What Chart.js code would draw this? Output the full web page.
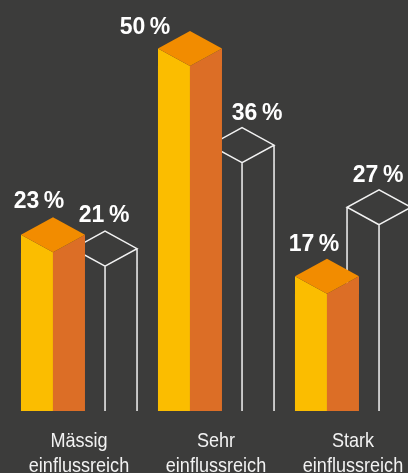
<!DOCTYPE html>
<html>
<head>
<meta charset="utf-8">
<script src="https://cdn.jsdelivr.net/npm/chart.js@4"></script>
<style>
  html, body { margin: 0; padding: 0; background: #3c3c3b; }
  #wrap { width: 408px; height: 473px; position: relative; }
</style>
</head>
<body>
<div id="wrap"><canvas id="barChart"></canvas></div>
<script>
// Chart data
const categories = [['Mässig', 'einflussreich'], ['Sehr', 'einflussreich'], ['Stark', 'einflussreich']];
const solidValues = [23, 50, 17];
const outlineValues = [21, 36, 27];

// label nudges (px) so the numbers sit where the original puts them
const solidLabelShift = [[-14, -9], [-45, 3], [-13, -8]];
const outlineLabelShift = [[-1, -9], [15, -8], [-1, -8]];

const HALF_W = 32;   // half width of a cube
const DIAMOND = 17.5; // half height of the top face

// Draws the bars as isometric blocks instead of flat rectangles
const blockBars = {
    id: 'blockBars',
    afterDatasetsDraw(chart) {
        const ctx = chart.ctx;
        const solid = chart.getDatasetMeta(0).data;
        const outline = chart.getDatasetMeta(1).data;

        ctx.save();
        // outline blocks first, the solid ones cover them
        outline.forEach(bar => {
            const x = bar.x, y = bar.y, b = bar.base;
            ctx.strokeStyle = '#f2f2f2';
            ctx.lineWidth = 1.5;
            ctx.beginPath();
            ctx.moveTo(x, y);
            ctx.lineTo(x - HALF_W, y - DIAMOND);
            ctx.lineTo(x, y - 2 * DIAMOND);
            ctx.lineTo(x + HALF_W, y - DIAMOND);
            ctx.closePath();
            ctx.moveTo(x - HALF_W, y - DIAMOND);
            ctx.lineTo(x - HALF_W, b);
            ctx.moveTo(x, y);
            ctx.lineTo(x, b);
            ctx.moveTo(x + HALF_W, y - DIAMOND);
            ctx.lineTo(x + HALF_W, b);
            ctx.stroke();
        });

        solid.forEach(bar => {
            const x = bar.x, y = bar.y, b = bar.base;
            // left face
            ctx.fillStyle = '#fbbd00';
            ctx.beginPath();
            ctx.moveTo(x - HALF_W, b);
            ctx.lineTo(x - HALF_W, y - DIAMOND);
            ctx.lineTo(x, y);
            ctx.lineTo(x, b);
            ctx.closePath();
            ctx.fill();
            // right face
            ctx.fillStyle = '#dc6e26';
            ctx.beginPath();
            ctx.moveTo(x, b);
            ctx.lineTo(x, y);
            ctx.lineTo(x + HALF_W, y - DIAMOND);
            ctx.lineTo(x + HALF_W, b);
            ctx.closePath();
            ctx.fill();
            // top
            ctx.fillStyle = '#f28c00';
            ctx.beginPath();
            ctx.moveTo(x, y);
            ctx.lineTo(x - HALF_W, y - DIAMOND);
            ctx.lineTo(x, y - 2 * DIAMOND);
            ctx.lineTo(x + HALF_W, y - DIAMOND);
            ctx.closePath();
            ctx.fill();
        });

        // value labels
        ctx.fillStyle = '#ffffff';
        ctx.font = 'bold 23px "Liberation Sans", Arial, sans-serif';
        ctx.textAlign = 'center';
        ctx.textBaseline = 'alphabetic';
        solid.forEach((bar, i) => {
            ctx.fillText(solidValues[i] + '\u2009%', bar.x + solidLabelShift[i][0], bar.y - 2 * DIAMOND + solidLabelShift[i][1]);
        });
        outline.forEach((bar, i) => {
            ctx.fillText(outlineValues[i] + '\u2009%', bar.x + outlineLabelShift[i][0], bar.y - 2 * DIAMOND + outlineLabelShift[i][1]);
        });

        // category labels under the x scale, in a condensed look
        const xScale = chart.scales.x;
        const base = chart.chartArea.bottom;
        ctx.fillStyle = '#f2f2f2';
        ctx.font = '21px "Liberation Sans", Arial, sans-serif';
        categories.forEach((lines, i) => {
            const cx = xScale.getPixelForTick(i);
            lines.forEach((line, j) => {
                ctx.save();
                ctx.translate(cx, base + 36 + j * 25);
                ctx.scale(0.86, 1);
                ctx.fillText(line, 0, 0);
                ctx.restore();
            });
        });
        ctx.restore();
    }
};

const ctx = document.getElementById('barChart').getContext('2d');
new Chart(ctx, {
    type: 'bar',
    data: {
        labels: categories,
        datasets: [{
            label: 'solid',
            data: solidValues,
            backgroundColor: 'rgba(0,0,0,0)'
        }, {
            label: 'outline',
            data: outlineValues,
            backgroundColor: 'rgba(0,0,0,0)'
        }]
    },
    options: {
        responsive: true,
        maintainAspectRatio: false,
        animation: false,
        events: [],
        categoryPercentage: 0.76,
        barPercentage: 1,
        layout: {
            padding: { left: 79, right: 55, top: 4, bottom: 54 }
        },
        plugins: {
            legend: { display: false },
            tooltip: { enabled: false }
        },
        scales: {
            x: {
                offset: false,
                grid: { display: false },
                border: { display: false },
                ticks: { display: false }
            },
            y: {
                display: false,
                min: 0,
                max: 59
            }
        }
    },
    plugins: [blockBars]
});
</script>
</body>
</html>
